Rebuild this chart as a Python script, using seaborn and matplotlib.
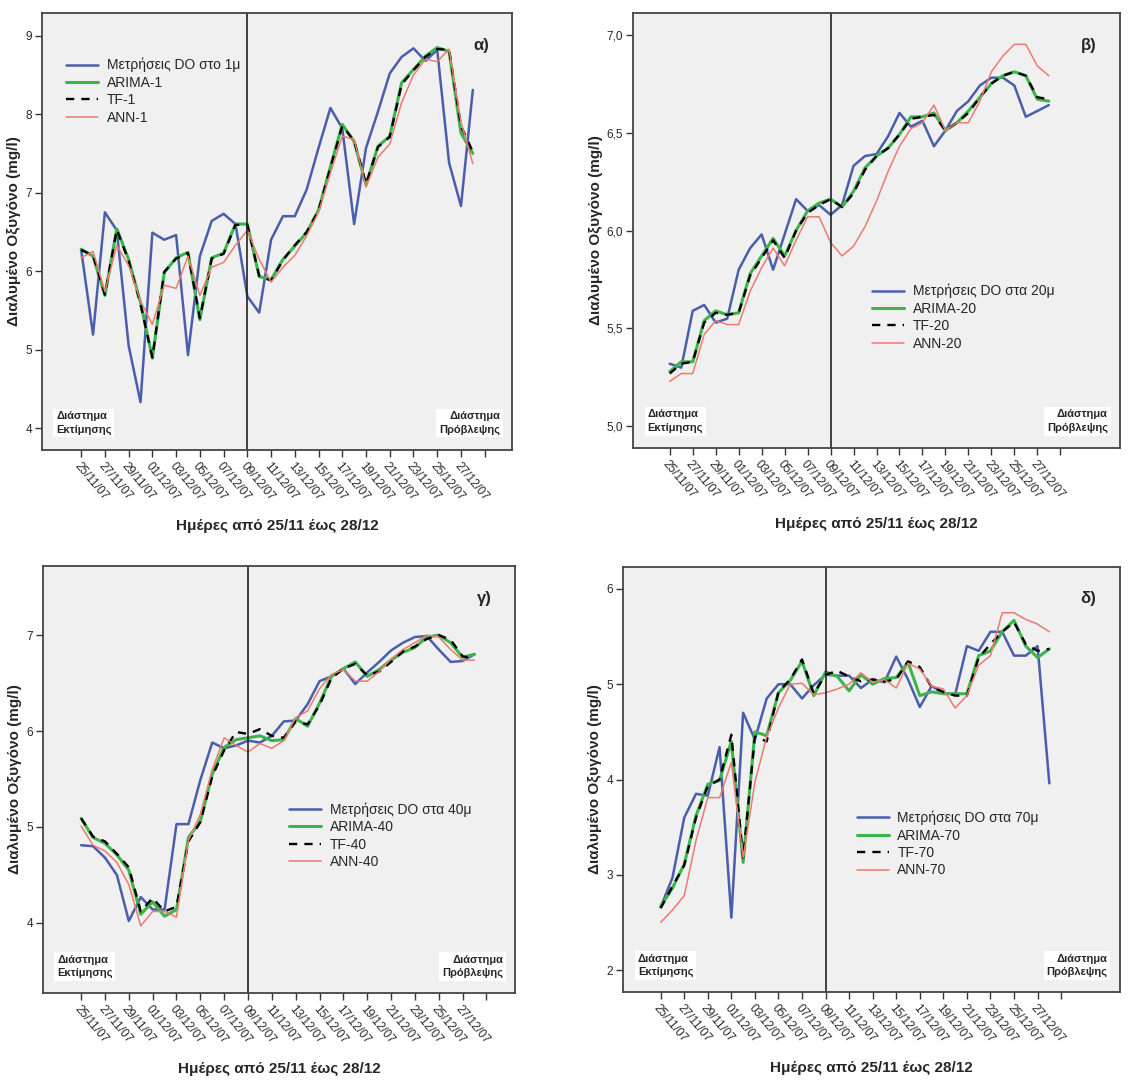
import seaborn as sns
import matplotlib.pyplot as plt
import pandas as pd
import numpy as np

sns.set_style("white")
plt.rcParams["font.family"] = ["Liberation Sans", "DejaVu Sans"]

# day index 0 = 25/11/07 ... 33 = 28/12/07
days = np.arange(34)
tick_pos = list(range(0, 35, 2))
tick_labels = ["25/11/07", "27/11/07", "29/11/07", "01/12/07", "03/12/07", "05/12/07",
               "07/12/07", "09/12/07", "11/12/07", "13/12/07", "15/12/07", "17/12/07",
               "19/12/07", "21/12/07", "23/12/07", "25/12/07", "27/12/07", ""]
split_day = 14

# panel a) 1 m
obs_1 = [6.27, 5.19, 6.75, 6.52, 5.05, 4.33, 6.49, 6.40, 6.46, 4.93, 6.19, 6.64, 6.73, 6.60, 5.68,
         5.47, 6.40, 6.70, 6.70, 7.04, 7.57, 8.08, 7.82, 6.60, 7.57, 8.03, 8.52, 8.73, 8.84, 8.68,
         8.82, 7.38, 6.83, 8.31]
arima_1 = [6.28, 6.19, 5.69, 6.54, 6.15, 5.60, 4.89, 5.98, 6.17, 6.24, 5.38, 6.17, 6.23, 6.60, 6.60,
           5.93, 5.89, 6.15, 6.32, 6.49, 6.78, 7.33, 7.87, 7.65, 7.10, 7.59, 7.72, 8.40, 8.57, 8.74,
           8.85, 8.80, 7.76, 7.50]
tf_1 = [6.27, 6.20, 5.70, 6.53, 6.13, 5.58, 4.90, 5.99, 6.16, 6.23, 5.40, 6.16, 6.22, 6.59, 6.59,
        5.94, 5.88, 6.14, 6.33, 6.50, 6.77, 7.32, 7.85, 7.66, 7.11, 7.58, 7.71, 8.38, 8.56, 8.73,
        8.83, 8.82, 7.85, 7.52]
ann_1 = [6.17, 6.25, 5.74, 6.33, 6.07, 5.62, 5.32, 5.82, 5.78, 6.19, 5.69, 6.05, 6.11, 6.33, 6.52,
         6.15, 5.86, 6.05, 6.20, 6.45, 6.75, 7.25, 7.72, 7.68, 7.07, 7.45, 7.62, 8.15, 8.50, 8.70,
         8.67, 8.83, 7.90, 7.37]

# panel b) 20 m
obs_20 = [5.32, 5.30, 5.59, 5.62, 5.53, 5.55, 5.80, 5.91, 5.98, 5.80, 5.98, 6.16, 6.10, 6.13, 6.08,
          6.13, 6.33, 6.38, 6.39, 6.48, 6.60, 6.53, 6.56, 6.43, 6.51, 6.61, 6.66, 6.74, 6.78, 6.78,
          6.74, 6.58, 6.61, 6.64]
arima_20 = [5.28, 5.33, 5.33, 5.54, 5.59, 5.57, 5.58, 5.78, 5.87, 5.96, 5.87, 6.00, 6.10, 6.14, 6.16,
            6.12, 6.20, 6.32, 6.38, 6.42, 6.49, 6.58, 6.58, 6.60, 6.51, 6.55, 6.61, 6.68, 6.75, 6.79,
            6.81, 6.79, 6.67, 6.66]
tf_20 = [5.27, 5.32, 5.33, 5.53, 5.58, 5.57, 5.58, 5.77, 5.86, 5.95, 5.86, 6.00, 6.09, 6.13, 6.16,
         6.12, 6.19, 6.31, 6.38, 6.42, 6.49, 6.57, 6.58, 6.59, 6.51, 6.55, 6.60, 6.68, 6.75, 6.79,
         6.81, 6.79, 6.68, 6.67]
ann_20 = [5.23, 5.27, 5.27, 5.47, 5.54, 5.52, 5.52, 5.69, 5.81, 5.91, 5.82, 5.95, 6.07, 6.07, 5.94,
          5.87, 5.92, 6.02, 6.15, 6.30, 6.43, 6.52, 6.55, 6.64, 6.51, 6.55, 6.55, 6.66, 6.81, 6.89,
          6.95, 6.95, 6.84, 6.79]

# panel c) 40 m
obs_40 = [4.81, 4.80, 4.68, 4.50, 4.02, 4.27, 4.14, 4.14, 5.03, 5.03, 5.49, 5.88, 5.82, 5.85, 5.90,
          5.88, 5.95, 6.10, 6.11, 6.28, 6.52, 6.57, 6.65, 6.49, 6.61, 6.72, 6.84, 6.92, 6.98, 6.99,
          6.85, 6.72, 6.73, 6.80]
arima_40 = [5.09, 4.89, 4.83, 4.71, 4.55, 4.09, 4.22, 4.07, 4.14, 4.89, 5.06, 5.55, 5.83, 5.91, 5.93,
            5.95, 5.90, 5.91, 6.13, 6.05, 6.29, 6.57, 6.65, 6.72, 6.57, 6.64, 6.74, 6.82, 6.87, 6.98,
            7.00, 6.92, 6.77, 6.80]
tf_40 = [5.09, 4.90, 4.85, 4.72, 4.58, 4.12, 4.26, 4.12, 4.17, 4.85, 5.05, 5.53, 5.80, 5.99, 5.97,
         6.02, 5.95, 5.93, 6.10, 6.07, 6.27, 6.55, 6.65, 6.70, 6.58, 6.62, 6.72, 6.83, 6.88, 6.96,
         7.00, 6.95, 6.78, 6.75]
ann_40 = [5.01, 4.81, 4.75, 4.63, 4.40, 3.97, 4.12, 4.12, 4.06, 4.86, 5.13, 5.60, 5.93, 5.85, 5.78,
          5.87, 5.82, 5.90, 6.14, 6.21, 6.44, 6.59, 6.64, 6.52, 6.52, 6.62, 6.75, 6.85, 6.92, 7.00,
          6.98, 6.85, 6.74, 6.74]

# panel d) 70 m
obs_70 = [2.66, 2.97, 3.60, 3.85, 3.83, 4.34, 2.55, 4.70, 4.42, 4.85, 5.00, 5.00, 4.85, 4.99, 5.10,
          5.09, 5.09, 4.96, 5.05, 5.02, 5.29, 5.05, 4.76, 4.98, 4.91, 4.89, 5.40, 5.35, 5.55, 5.55,
          5.30, 5.30, 5.40, 3.96]
arima_70 = [2.67, 2.86, 3.11, 3.62, 3.95, 3.99, 4.40, 3.13, 4.50, 4.46, 4.91, 5.04, 5.24, 4.88, 5.13,
            5.08, 4.93, 5.10, 5.00, 5.06, 5.07, 5.23, 4.88, 4.92, 4.90, 4.90, 4.90, 5.30, 5.35, 5.55,
            5.67, 5.40, 5.28, 5.37]
tf_70 = [2.65, 2.88, 3.10, 3.60, 3.93, 4.00, 4.47, 3.18, 4.45, 4.40, 4.92, 5.05, 5.26, 4.90, 5.10,
         5.14, 5.08, 5.03, 5.05, 5.03, 5.05, 5.24, 5.18, 4.97, 4.92, 4.88, 4.88, 5.28, 5.42, 5.55,
         5.65, 5.42, 5.35, 5.37]
ann_70 = [2.50, 2.63, 2.78, 3.36, 3.81, 3.81, 4.18, 3.18, 3.97, 4.45, 4.75, 5.00, 5.01, 4.89, 4.91,
          4.95, 5.00, 5.12, 5.02, 5.05, 4.96, 5.22, 5.16, 4.98, 4.95, 4.75, 4.88, 5.20, 5.30, 5.75,
          5.75, 5.68, 5.63, 5.55]

panels = [
    dict(series=[obs_1, arima_1, tf_1, ann_1],
         names=["Μετρήσεις DO στο 1μ", "ARIMA-1", "TF-1", "ANN-1"], letter="α)",
         rect=[42, 13, 512, 450], xlim=(-3.3, 36.3), ylim=(3.72, 9.29),
         yticks=[4, 5, 6, 7, 8, 9], fmt="{:.0f}", leg=(0.04, 0.91)),
    dict(series=[obs_20, arima_20, tf_20, ann_20],
         names=["Μετρήσεις DO στα 20μ", "ARIMA-20", "TF-20", "ANN-20"], letter="β)",
         rect=[633, 13, 1120, 448], xlim=(-3.2, 39.2), ylim=(4.89, 7.11),
         yticks=[5.0, 5.5, 6.0, 6.5, 7.0], fmt="{:.1f}", leg=(0.48, 0.39)),
    dict(series=[obs_40, arima_40, tf_40, ann_40],
         names=["Μετρήσεις DO στα 40μ", "ARIMA-40", "TF-40", "ANN-40"], letter="γ)",
         rect=[43, 566, 515, 993], xlim=(-3.2, 36.4), ylim=(3.27, 7.72),
         yticks=[4, 5, 6, 7], fmt="{:.0f}", leg=(0.51, 0.46)),
    dict(series=[obs_70, arima_70, tf_70, ann_70],
         names=["Μετρήσεις DO στα 70μ", "ARIMA-70", "TF-70", "ANN-70"], letter="δ)",
         rect=[623, 567, 1120, 992], xlim=(-3.2, 39.0), ylim=(1.77, 6.23),
         yticks=[2, 3, 4, 5, 6], fmt="{:.0f}", leg=(0.46, 0.44)),
]

colors = ["#4a5eab", "#3bb54a", "black", "#ec7a70"]
widths = [1.8, 2.2, 1.7, 1.1]
styles = ["-", "-", (0, (3.5, 3)), "-"]

W, H = 1134, 1092
fig = plt.figure(figsize=(W / 100, H / 100), dpi=100)

for p in panels:
    x0, y0, x1, y1 = p["rect"]
    ax = fig.add_axes([x0 / W, 1 - y1 / H, (x1 - x0) / W, (y1 - y0) / H])
    ax.set_facecolor("#f0f0f0")
    for vals, name, c, lw, ls in zip(p["series"], p["names"], colors, widths, styles):
        df = pd.DataFrame({"day": days, "DO": vals})
        sns.lineplot(data=df, x="day", y="DO", ax=ax, color=c, linewidth=lw,
                     linestyle=ls, label=name)
    ax.axvline(split_day, color="#222222", linewidth=1.2)
    ax.set_xlim(*p["xlim"])
    ax.set_ylim(*p["ylim"])
    ax.set_xticks(tick_pos)
    ax.set_xticklabels(tick_labels, rotation=-50, ha="left", va="top",
                       rotation_mode="anchor", fontsize=8.5)
    ax.set_yticks(p["yticks"])
    ax.set_yticklabels([p["fmt"].format(v).replace(".", ",") for v in p["yticks"]], fontsize=8.5)
    ax.tick_params(axis="both", direction="out", length=5, width=1, color="#333333", pad=2,
                   bottom=True, left=True)
    for s in ax.spines.values():
        s.set_color("#444444")
        s.set_linewidth(1.3)
    ax.set_xlabel("Ημέρες από 25/11 έως 28/12", fontsize=11, fontweight="bold", labelpad=12)
    ax.set_ylabel("Διαλυμένο Οξυγόνο (mg/l)", fontsize=11, fontweight="bold", labelpad=3)
    ax.legend(loc="upper left", bbox_to_anchor=p["leg"], frameon=False, fontsize=10,
              handlelength=2.3, labelspacing=0.25, handletextpad=0.6, borderaxespad=0)
    ax.text(0.935, 0.925, p["letter"], transform=ax.transAxes, fontsize=12,
            fontweight="bold", ha="center", va="center")
    ax.text(0.03, 0.035, "Διάστημα\nΕκτίμησης", transform=ax.transAxes, fontsize=8,
            fontweight="bold", ha="left", va="bottom", linespacing=1.4,
            bbox=dict(facecolor="white", edgecolor="none", pad=2))
    ax.text(0.975, 0.035, "Διάστημα\nΠρόβλεψης", transform=ax.transAxes, fontsize=8,
            fontweight="bold", ha="right", va="bottom", linespacing=1.4,
            bbox=dict(facecolor="white", edgecolor="none", pad=2))

fig.savefig("out.png", dpi=100)
plt.close(fig)
